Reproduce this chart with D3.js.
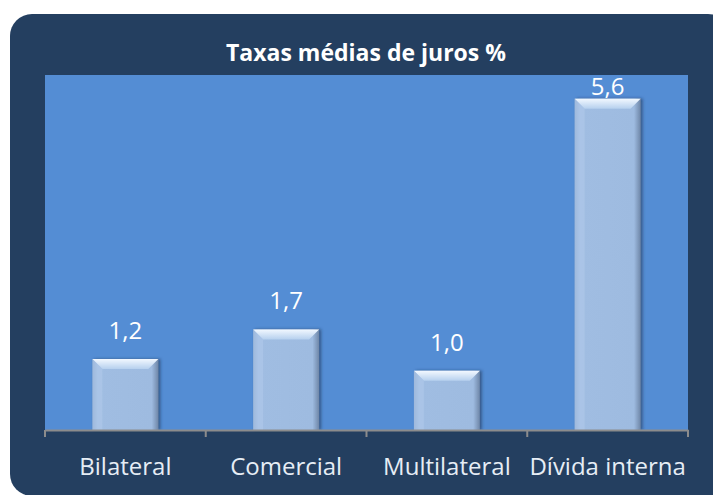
<!DOCTYPE html>
<html>
<head>
<meta charset="utf-8">
<script src="https://cdn.jsdelivr.net/npm/d3@7"></script>
<style>
  body { margin: 0; background: #fff; }
  text { font-family: "Open Sans", "Liberation Sans", sans-serif; }
</style>
</head>
<body>
<svg width="713" height="495"></svg>
<script>
const title = 'Taxas médias de juros %'
const categories = ['Bilateral', 'Comercial', 'Multilateral', 'Dívida interna']
const values = [1.2, 1.7, 1.0, 5.6]
const yMax = 6

const svg = d3.select('svg')
const margin = { top: 75, right: 25, bottom: 65, left: 45 }
const width = 713
const height = 495
const fmt = v => d3.format('.1f')(v).replace('.', ',')

const defs = svg.append('defs')
const grad = defs.append('linearGradient').attr('id', 'barFill')
  .attr('x1', 0).attr('x2', 1).attr('y1', 0).attr('y2', 0)
grad.append('stop').attr('offset', '0%').attr('stop-color', '#8aa6cc')
grad.append('stop').attr('offset', '8%').attr('stop-color', '#a0bde2')
grad.append('stop').attr('offset', '90%').attr('stop-color', '#9ebbe0')
grad.append('stop').attr('offset', '100%').attr('stop-color', '#6f87a8')
const topGrad = defs.append('linearGradient').attr('id', 'topFill')
  .attr('x1', 0).attr('x2', 0).attr('y1', 0).attr('y2', 1)
topGrad.append('stop').attr('offset', '0%').attr('stop-color', '#f2f8ff')
topGrad.append('stop').attr('offset', '100%').attr('stop-color', '#b6d0ee')
const shadow = defs.append('filter').attr('id', 'shadow')
  .attr('x', '-20%').attr('y', '-20%').attr('width', '150%').attr('height', '140%')
shadow.append('feDropShadow').attr('dx', 2).attr('dy', 0).attr('stdDeviation', 1.5)
  .attr('flood-color', '#1d3556').attr('flood-opacity', 0.6)

// chart frame
svg.append('rect')
  .attr('x', 10).attr('y', 14)
  .attr('width', 720).attr('height', 482)
  .attr('rx', 22)
  .attr('fill', '#243f60')

svg.append('text')
  .attr('x', 366).attr('y', 61)
  .attr('text-anchor', 'middle')
  .attr('fill', '#ffffff')
  .attr('font-size', 23)
  .attr('font-weight', 'bold')
  .text(title)

const x = d3.scaleBand()
  .domain(categories)
  .range([margin.left, width - margin.right])
  .paddingInner(0.59).paddingOuter(0.295)

const x0 = d3.scaleBand()
  .domain(categories)
  .range([margin.left, width - margin.right])

const y = d3.scaleLinear()
  .domain([0, yMax])
  .range([height - margin.bottom, margin.top])

// plot area
svg.append('rect')
  .attr('x', margin.left).attr('y', margin.top)
  .attr('width', width - margin.right - margin.left)
  .attr('height', y(0) - margin.top)
  .attr('fill', '#548dd4')

const bars = svg.append('g')
  .selectAll('g')
  .data(values)
  .join('g')
  .attr('filter', 'url(#shadow)')

bars.append('rect')
  .attr('x', (d, i) => x(categories[i]))
  .attr('y', d => y(d))
  .attr('width', x.bandwidth())
  .attr('height', d => y(0) - y(d))
  .attr('fill', 'url(#barFill)')

const bev = 10
bars.append('path')
  .attr('d', (d, i) => {
    const x1 = x(categories[i]), x2 = x1 + x.bandwidth(), t = y(d)
    return `M${x1},${t}L${x2},${t}L${x2 - bev},${t + bev}L${x1 + bev},${t + bev}Z`
  })
  .attr('fill', 'url(#topFill)')

bars.append('path')
  .attr('d', (d, i) => {
    const x1 = x(categories[i]), t = y(d), b = y(0)
    return `M${x1},${t}L${x1 + bev},${t + bev}L${x1 + bev},${b}L${x1},${b}Z`
  })
  .attr('fill', '#b3cceb').attr('opacity', 0.5)

svg.append('g')
  .attr('font-size', 24)
  .attr('fill', '#ffffff')
  .attr('text-anchor', 'middle')
  .selectAll('text')
  .data(values)
  .join('text')
  .attr('x', (d, i) => x(categories[i]) + x.bandwidth() / 2)
  .attr('y', d => Math.max(y(d) - 20, margin.top + 20))
  .text(d => fmt(d))

// category axis
const axis = svg.append('g')
  .attr('transform', `translate(0,${y(0)})`)
  .call(d3.axisBottom(x0).tickSize(0).tickPadding(28))
axis.select('.domain').attr('stroke', '#8c8c8c').attr('stroke-width', 2)
axis.selectAll('.tick text')
  .attr('fill', '#e6edf5')
  .attr('font-size', 24)
  .style('font-family', '"Open Sans", "Liberation Sans", sans-serif')

axis.append('g')
  .selectAll('line')
  .data(d3.range(categories.length + 1))
  .join('line')
  .attr('x1', i => i < categories.length ? x0(categories[i]) : x0.range()[1])
  .attr('x2', i => i < categories.length ? x0(categories[i]) : x0.range()[1])
  .attr('y1', 0).attr('y2', 7)
  .attr('stroke', '#8c8c8c').attr('stroke-width', 2)
</script>
</body>
</html>
